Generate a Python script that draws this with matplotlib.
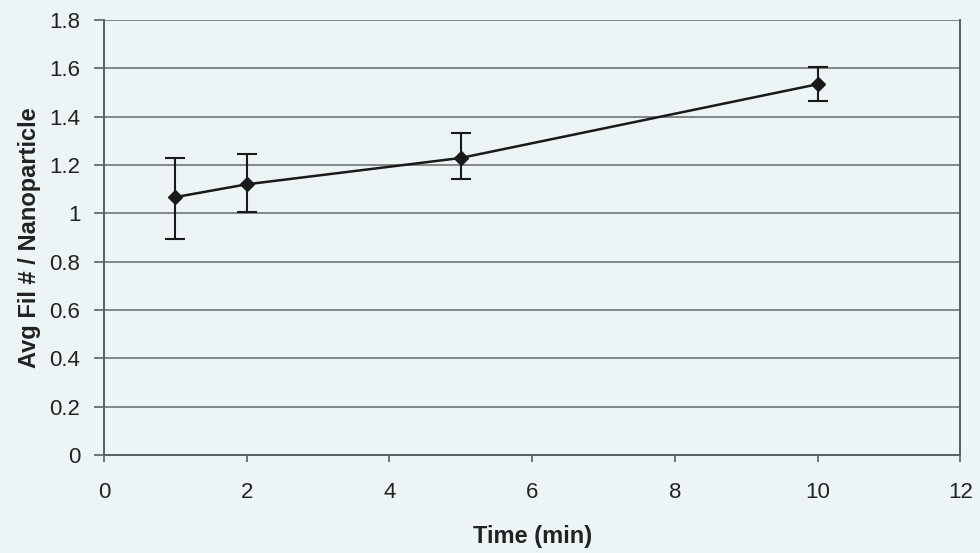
import matplotlib.pyplot as plt

plt.rcParams['font.family'] = ['Liberation Sans', 'DejaVu Sans']

# data
time_min = [1, 2, 5, 10]
avg_fil = [1.067, 1.120, 1.229, 1.534]
err_low = [0.173, 0.116, 0.087, 0.068]
err_high = [0.163, 0.125, 0.103, 0.073]

x_ticks = [0, 2, 4, 6, 8, 10, 12]
y_ticks = [0, 0.2, 0.4, 0.6, 0.8, 1, 1.2, 1.4, 1.6, 1.8]
y_tick_labels = ['0', '0.2', '0.4', '0.6', '0.8', '1', '1.2', '1.4', '1.6', '1.8']

bg = '#edf4f6'
fig = plt.figure(figsize=(9.8, 5.53), dpi=100, facecolor=bg)
ax = fig.add_axes([0.106, 0.177, 0.874, 0.787], facecolor=bg)

ax.errorbar(time_min, avg_fil, yerr=[err_low, err_high],
            color='#1a1a1a', linewidth=1.8, marker='D', markersize=7.5,
            ecolor='#1a1a1a', elinewidth=1.5, capsize=7, capthick=1.5, zorder=5)

ax.set_xlim(0, 12)
ax.set_ylim(0, 1.8)
ax.set_xticks(x_ticks)
ax.set_yticks(y_ticks)
ax.set_yticklabels(y_tick_labels)
ax.yaxis.grid(True, color='#6e7475', linewidth=1.2)
ax.set_axisbelow(True)

for side in ['left', 'bottom', 'right']:
    ax.spines[side].set_color('#5a5f60')
    ax.spines[side].set_linewidth(1.4)
ax.spines['top'].set_visible(False)

ax.tick_params(axis='both', direction='out', width=1.2,
               color='#5a5f60', labelsize=16, labelcolor='#222222')
ax.tick_params(axis='x', length=5, pad=14)
ax.tick_params(axis='y', length=7, pad=10)

ax.set_xlabel('Time (min)', fontsize=17, fontweight='bold', color='#222222', labelpad=16)
ax.set_ylabel('Avg Fil # / Nanoparticle', fontsize=17, fontweight='bold', color='#222222', labelpad=6)

fig.savefig('out.png', dpi=100, facecolor=bg)
